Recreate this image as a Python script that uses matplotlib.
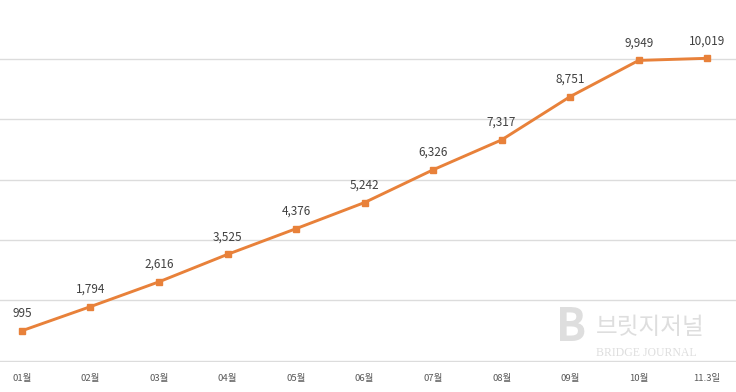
import matplotlib.pyplot as plt

plt.rcParams['font.family'] = ['Noto Sans CJK KR', 'DejaVu Sans']

# data
months = ['01월', '02월', '03월', '04월', '05월', '06월', '07월', '08월', '09월', '10월', '11.3일']
values = [995, 1794, 2616, 3525, 4376, 5242, 6326, 7317, 8751, 9949, 10019]

orange = '#E8813A'

fig = plt.figure(figsize=(7.36, 3.92), dpi=100)
ax = fig.add_axes([0, 30 / 392, 1, 362 / 392])

x = list(range(len(months)))
ax.plot(x, values, color=orange, lw=2.1, marker='s', ms=5, zorder=3)

for xi, v in zip(x, values):
    ax.annotate(f'{v:,}', (xi, v), xytext=(0, 8), textcoords='offset points',
                ha='center', va='bottom', fontsize=8.5, color='#404040')

ax.set_xlim(-0.32, 10.42)
ax.set_ylim(-40, 11950)
ax.set_yticks(range(0, 12000, 2000))
ax.grid(axis='y', color='#dcdcdc', lw=1)
ax.tick_params(left=False, labelleft=False, bottom=False)
ax.set_xticks(x)
ax.set_xticklabels(months, fontsize=6.8, color='#595959')
ax.tick_params(axis='x', pad=5)
for s in ax.spines.values():
    s.set_visible(False)

# watermark
fig.text(0.755, 0.105, 'B', fontsize=32, color='#dedede', fontweight='bold',
         ha='left', va='bottom', zorder=0)
fig.text(0.81, 0.135, '브릿지저널', fontsize=17, color='#dedede',
         ha='left', va='bottom', zorder=0)
fig.text(0.81, 0.085, 'BRIDGE JOURNAL', fontsize=8.5, color='#dedede',
         family='Liberation Serif', ha='left', va='bottom', zorder=0)

fig.savefig('out.png', dpi=100)
